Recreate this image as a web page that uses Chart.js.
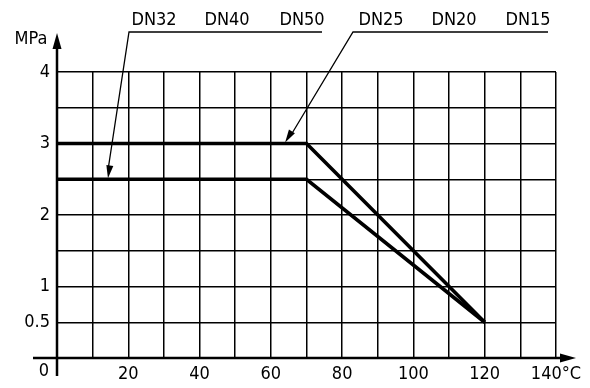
<!DOCTYPE html>
<html>
<head>
<meta charset="utf-8">
<script src="https://cdn.jsdelivr.net/npm/chart.js@4.4.1/dist/chart.umd.min.js"></script>
<style>
  body { margin: 0; background: #fff; }
  canvas { display: block; }
</style>
</head>
<body>
<canvas id="chart" width="590" height="388"></canvas>
<script>
// temperature (°C) and max pressure (MPa)
const temps = [0, 70, 120];
const pressSmall = [3, 3, 0.5];     // DN25 DN20 DN15
const pressLarge = [2.5, 2.5, 0.5]; // DN32 DN40 DN50
const groupLarge = ["DN32", "DN40", "DN50"];
const groupSmall = ["DN25", "DN20", "DN15"];
const xLabels = [20, 40, 60, 80, 100, 120];
const yLabels = [0.5, 1, 2, 3, 4];

const FONT = "'Liberation Sans Narrow', 'DejaVu Sans Condensed', 'Liberation Sans', sans-serif";

function arrow(ctx, x1, y1, x2, y2, len, half) {
    const a = Math.atan2(y2 - y1, x2 - x1);
    ctx.beginPath();
    ctx.moveTo(x2, y2);
    ctx.lineTo(x2 - len * Math.cos(a) + half * Math.sin(a), y2 - len * Math.sin(a) - half * Math.cos(a));
    ctx.lineTo(x2 - len * Math.cos(a) - half * Math.sin(a), y2 - len * Math.sin(a) + half * Math.cos(a));
    ctx.closePath();
    ctx.fill();
}

const overlay = {
    id: "overlay",
    afterDraw(chart) {
        const ctx = chart.ctx;
        const xs = chart.scales.x, ys = chart.scales.y;
        const x0 = xs.getPixelForValue(0), y0 = ys.getPixelForValue(0);
        ctx.save();
        ctx.strokeStyle = "#000";
        ctx.fillStyle = "#000";

        // axes with arrows
        ctx.lineWidth = 2.5;
        ctx.beginPath();
        ctx.moveTo(33, y0); ctx.lineTo(566, y0);
        ctx.moveTo(x0, 376); ctx.lineTo(x0, 45);
        ctx.stroke();
        arrow(ctx, 33, y0, 576, y0, 16, 4.5);
        arrow(ctx, x0, 376, x0, 33, 16, 4.5);

        // text
        ctx.font = "18px " + FONT;
        ctx.textBaseline = "middle";
        ctx.textAlign = "center";
        ctx.fillText("MPa", 31, 39);
        ctx.fillText("0", 44, 371);
        const posLarge = [154, 227, 302];
        const posSmall = [381, 454, 528];
        groupLarge.forEach((t, i) => ctx.fillText(t, posLarge[i], 20));
        groupSmall.forEach((t, i) => ctx.fillText(t, posSmall[i], 20));

        // leader lines
        ctx.lineWidth = 1.3;
        const tipL = [xs.getPixelForValue(14.3), ys.getPixelForValue(pressLarge[0]) - 1];
        const tipS = [xs.getPixelForValue(64), ys.getPixelForValue(pressSmall[0]) - 1];
        ctx.beginPath();
        ctx.moveTo(322, 32); ctx.lineTo(129, 32); ctx.lineTo(tipL[0], tipL[1] - 8);
        ctx.moveTo(548, 32); ctx.lineTo(353, 32); ctx.lineTo(tipS[0] + 5, tipS[1] - 6);
        ctx.stroke();
        arrow(ctx, 129, 32, tipL[0], tipL[1], 13, 3.5);
        arrow(ctx, 353, 32, tipS[0], tipS[1], 13, 3.5);
        ctx.restore();
    }
};

new Chart(document.getElementById("chart"), {
    type: "line",
    data: {
        datasets: [
            { data: temps.map((t, i) => ({ x: t, y: pressSmall[i] })) },
            { data: temps.map((t, i) => ({ x: t, y: pressLarge[i] })) }
        ]
    },
    options: {
        responsive: false,
        animation: false,
        layout: { padding: { top: 72, right: 34, left: 0, bottom: 0 } },
        elements: {
            line: { borderColor: "#000", borderWidth: 3.6, tension: 0, borderJoinStyle: "miter" },
            point: { radius: 0 }
        },
        plugins: { legend: { display: false }, tooltip: { enabled: false } },
        scales: {
            x: {
                type: "linear", min: 0, max: 140,
                afterFit: s => { s.height = 30; },
                border: { display: false },
                grid: { color: "#000", lineWidth: 1.5, drawTicks: false },
                ticks: {
                    stepSize: 10, padding: 6, color: "#000", maxRotation: 0, autoSkip: false,
                    font: { family: FONT, size: 18 },
                    callback: v => v === 140 ? "140°C" : (xLabels.includes(v) ? String(v) : "")
                }
            },
            y: {
                min: 0, max: 4,
                afterFit: s => { s.width = 57; },
                border: { display: false },
                grid: { color: "#000", lineWidth: 1.5, drawTicks: false },
                ticks: {
                    stepSize: 0.5, padding: 7, color: "#000", autoSkip: false,
                    font: { family: FONT, size: 18 },
                    callback: v => yLabels.includes(v) ? String(v) : ""
                }
            }
        }
    },
    plugins: [overlay]
});
</script>
</body>
</html>
